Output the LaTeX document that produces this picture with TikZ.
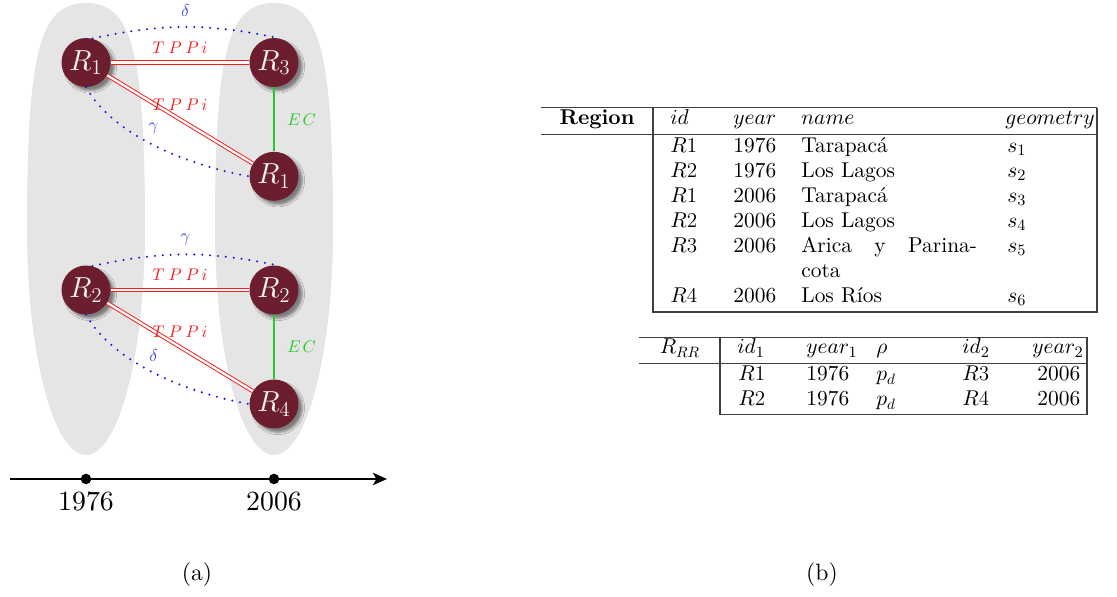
\documentclass[tikz,border=0pt]{standalone}
\usepackage{amsmath}
\usepackage{amssymb}
\usepackage{fontspec}
\setmainfont{lmroman10-regular}[Extension=.otf, BoldFont=lmroman10-bold, ItalicFont=lmroman10-italic, BoldItalicFont=lmroman10-bolditalic]
\DeclareFontShape{OML}{cmm}{m}{it}{<->cmmi10}{\skewchar\font=127}
\usetikzlibrary{shadows.blur,arrows.meta}

\definecolor{regfill}{RGB}{108,29,46}
\definecolor{dotblue}{RGB}{20,20,230}
\definecolor{tppred}{RGB}{245,30,30}
\definecolor{ecgreen}{RGB}{35,205,35}
\definecolor{zonegray}{RGB}{229,229,229}

\tikzset{
  region/.style={circle, fill=regfill, text=black!6, minimum size=0.98cm, inner sep=0pt,
    font=\fontsize{16.5}{19}\selectfont,
    blur shadow={shadow xshift=2.2pt, shadow yshift=-2.2pt, shadow blur radius=1.3pt, shadow opacity=45}},
  tppi/.style={draw=tppred, double=white, line width=0.55pt, double distance=1.3pt},
  ec/.style={draw=ecgreen, line width=1.1pt},
  rel/.style={draw=dotblue, line width=1.3pt, line cap=round, dash pattern=on 0pt off 4.5pt},
  rellabel/.style={text=dotblue!80, font=\fontsize{9.8}{12}\selectfont, inner sep=1pt},
  edgelabel/.style={font=\fontsize{9.6}{11}\selectfont, inner sep=1pt},
  yearlabel/.style={anchor=base, font=\fontsize{15.8}{18}\selectfont},
  tick/.style={circle, fill, minimum size=6pt, inner sep=0pt},
  cell/.style={anchor=base west, inner sep=0pt, font=\fontsize{12.2}{14}\selectfont},
  rule/.style={draw=black!75, line width=0.6pt},
}

\begin{document}
\begin{tikzpicture}[x=0.02cm, y=-0.02cm]
  \useasboundingbox (0,0) rectangle (1117,597);

  % (a) snapshots 1976 and 2006
  \foreach \cx in {86,274}{
    \fill[zonegray] ({\cx-59},229) .. controls ({\cx-59},51.8) and ({\cx-46.3},3) .. (\cx,3)
      .. controls ({\cx+46.3},3) and ({\cx+59},51.8) .. ({\cx+59},229)
      .. controls ({\cx+59},353.8) and ({\cx+32.6},455) .. (\cx,455)
      .. controls ({\cx-32.6},455) and ({\cx-59},353.8) .. cycle;
  }

  \node[region] (R1a) at (86,62.5) {$R_1$};
  \node[region] (R3) at (274,62.5) {$R_3$};
  \node[region] (R1b) at (274,176.3) {$R_1$};
  \node[region] (R2a) at (86,290) {$R_2$};
  \node[region] (R2b) at (274,290) {$R_2$};
  \node[region] (R4) at (274,404) {$R_4$};

  \draw[tppi] (R1a) -- (R3) node[midway, above=4pt, edgelabel, text=tppred] {$T\mkern4mu P\mkern4mu P\mkern3mu i$};
  \draw[tppi] (R1a) -- (R1b) node[midway, above=4pt, edgelabel, text=tppred] {$T\mkern4mu P\mkern4mu P\mkern3mu i$};
  \draw[tppi] (R2a) -- (R2b) node[midway, above=4pt, edgelabel, text=tppred] {$T\mkern4mu P\mkern4mu P\mkern3mu i$};
  \draw[tppi] (R2a) -- (R4) node[midway, above=4pt, edgelabel, text=tppred] {$T\mkern4mu P\mkern4mu P\mkern3mu i$};

  \draw[ec] (R3) -- (R1b) node[midway, right=6pt, edgelabel, text=ecgreen] {$E\mkern2mu C$};
  \draw[ec] (R2b) -- (R4) node[midway, right=6pt, edgelabel, text=ecgreen] {$E\mkern2mu C$};

  \draw[rel] (R1a.75) to[bend left=12] node[rellabel, midway, above=4pt] {$\delta$} (R3.80);
  \draw[rel] (R1a.south) to[out=-60, in=170, looseness=0.8] node[rellabel, pos=0.5, above=6pt, xshift=-2pt] {$\gamma$} (R1b.west);
  \draw[rel] (R2a.75) to[bend left=12] node[rellabel, midway, above=4pt] {$\gamma$} (R2b.80);
  \draw[rel] (R2a.south) to[out=-60, in=170, looseness=0.8] node[rellabel, pos=0.5, above=6pt, xshift=-2pt] {$\delta$} (R4.west);

  % time axis
  \coordinate (tstart) at (10,479);
  \coordinate (tend) at (387,479);
  \draw[line width=1.1pt, -{Stealth[length=8pt, width=7pt, inset=2pt]}] (tstart) -- (tend);
  \node[tick] (t1976) at (86,479) {};
  \node[tick] (t2006) at (274,479) {};
  \node[yearlabel] (y1976) at (86,511) {1976};
  \node[yearlabel] (y2006) at (274,511) {2006};

  \node[anchor=base, font=\fontsize{13.5}{16}\selectfont] (capa) at (197,581) {(a)};
  \node[anchor=base, font=\fontsize{13.5}{16}\selectfont] (capb) at (822,581) {(b)};

  % (b) relation Region
  \draw[rule] (541,107.7) -- (1097,107.7);
  \draw[rule] (541,134.3) -- (1097,134.3);
  \draw[rule] (653,107.7) -- (653,312) -- (1097,312) -- (1097,107.7);
  \node[cell, anchor=base] (reg-head) at (597,124.5) {\textbf{Region}};
  \node[cell] (reg-h1) at (670,124.5) {$id$};
  \node[cell] (reg-h2) at (733,124.5) {$year$};
  \node[cell] (reg-h3) at (801,124.5) {$name$};
  \node[cell] (reg-h4) at (1005,124.5) {$geometry$};
  \foreach \yb/\rid/\yr/\nm/\k in {152.7/R1/1976/Tarapacá/1, 177.7/R2/1976/Los Lagos/2,
      202.7/R1/2006/Tarapacá/3, 227.7/R2/2006/Los Lagos/4,
      252.7/R3/2006/{\makebox[100pt][s]{Arica y Parina-}}/5, 302.7/R4/2006/Los Ríos/6}{
    \node[cell] (reg-id-\k) at (670,\yb) {$\rid$};
    \node[cell] (reg-yr-\k) at (733,\yb) {\yr};
    \node[cell] (reg-nm-\k) at (801,\yb) {\nm};
    \node[cell] (reg-geo-\k) at (1007,\yb) {$s_{\k}$};
  }
  \node[cell] (reg-nm-5b) at (801,277.7) {cota};

  % (b) relation R_RR
  \draw[rule] (639,337.3) -- (1087,337.3);
  \draw[rule] (639,363.3) -- (1087,363.3);
  \draw[rule] (720,337.3) -- (720,414.5) -- (1087,414.5) -- (1087,337.3);
  \node[cell, anchor=base] (rr-head) at (680,354) {$R_{RR}$};
  \node[cell] (rr-h1) at (737,354) {$id_1$};
  \node[cell] (rr-h2) at (806,354) {$year_1$};
  \node[cell] (rr-h3) at (876,354) {$\rho$};
  \node[cell] (rr-h4) at (962,354) {$id_2$};
  \node[cell] (rr-h5) at (1032,354) {$year_2$};
  \foreach \yb/\ida/\idb/\k in {381/R1/R3/1, 406/R2/R4/2}{
    \node[cell] (rr-ida-\k) at (738,\yb) {$\ida$};
    \node[cell] (rr-yra-\k) at (806,\yb) {1976};
    \node[cell] (rr-rho-\k) at (876,\yb) {$p_d$};
    \node[cell] (rr-idb-\k) at (962,\yb) {$\idb$};
    \node[cell] (rr-yrb-\k) at (1037,\yb) {2006};
  }
\end{tikzpicture}
\end{document}
